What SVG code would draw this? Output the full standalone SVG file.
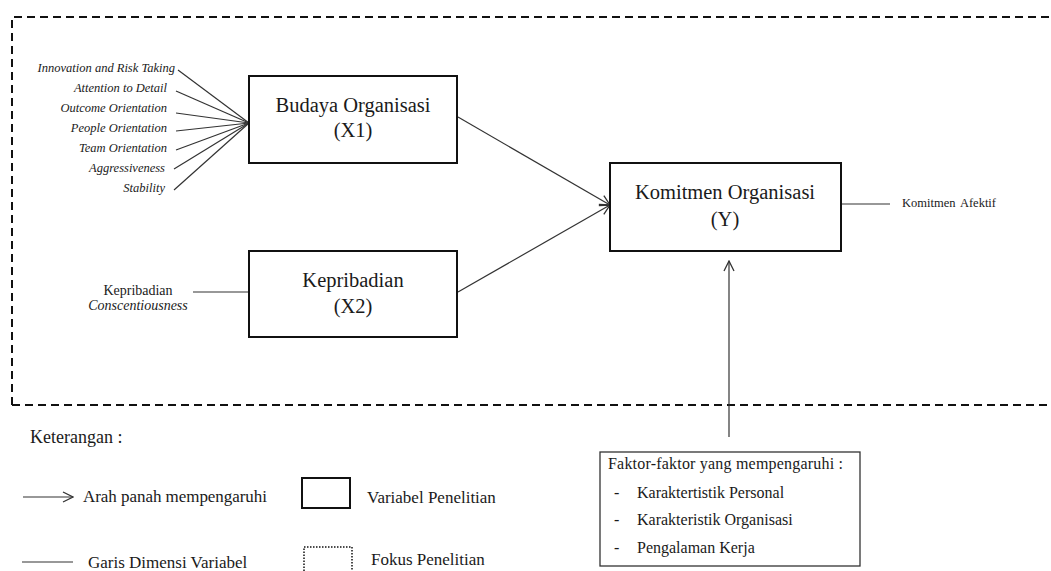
<svg xmlns="http://www.w3.org/2000/svg" width="1051" height="571" viewBox="0 0 1051 571">
<defs>
<marker id="arr" viewBox="0 0 12 12" refX="11" refY="6" markerWidth="12" markerHeight="12" markerUnits="userSpaceOnUse" orient="auto">
<path d="M1,1 L11,6 L1,11" fill="none" stroke="#333" stroke-width="1.3"/>
</marker>
</defs>
<style>
.t{font-family:"Liberation Serif","Times New Roman",serif;fill:#1a1a1a}
.big{font-size:20.5px}
.dim{font-size:12.5px;font-style:italic}
.box{fill:#fff;stroke:#111;stroke-width:2}
.ln{stroke:#333;stroke-width:1.2;fill:none}
.leg{font-size:17px}
.fk{font-size:16px}
</style>
<rect width="1051" height="571" fill="#fff"/>
<g id="focus">
<path d="M12,405 L12,17 L1051,17 M12,405 L1051,405" fill="none" stroke="#111" stroke-width="2" stroke-dasharray="8 5"/>
</g>
<g id="connectors">
<line class="ln" x1="178" y1="70" x2="249" y2="123"/>
<line class="ln" x1="176" y1="91" x2="249" y2="123"/>
<line class="ln" x1="176" y1="113" x2="249" y2="123"/>
<line class="ln" x1="176" y1="131" x2="249" y2="123"/>
<line class="ln" x1="176" y1="150" x2="249" y2="123"/>
<line class="ln" x1="174" y1="169" x2="249" y2="123"/>
<line class="ln" x1="174" y1="190" x2="249" y2="123"/>
<line class="ln" x1="193" y1="292" x2="249" y2="292"/>
<line class="ln" x1="458" y1="117" x2="610" y2="205" marker-end="url(#arr)"/>
<line class="ln" x1="458" y1="292" x2="610" y2="205" marker-end="url(#arr)"/>
<line class="ln" x1="841" y1="204" x2="890" y2="204"/>
<line class="ln" x1="729" y1="437" x2="729" y2="261" marker-end="url(#arr)"/>
</g>
<g id="budaya">
<rect class="box" x="249" y="76" width="208" height="87"/>
<text class="t big" x="353" y="112" text-anchor="middle">Budaya Organisasi</text>
<text class="t big" x="353" y="137" text-anchor="middle">(X1)</text>
</g>
<g id="kepribadian">
<rect class="box" x="249" y="251" width="208" height="86"/>
<text class="t big" x="353" y="287" text-anchor="middle">Kepribadian</text>
<text class="t big" x="353" y="313" text-anchor="middle">(X2)</text>
</g>
<g id="komitmen">
<rect class="box" x="610" y="163" width="231" height="88"/>
<text class="t big" x="725" y="199" text-anchor="middle">Komitmen Organisasi</text>
<text class="t big" x="725" y="226" text-anchor="middle">(Y)</text>
</g>
<g id="dimensi-x1">
<text class="t dim" x="175" y="72" text-anchor="end">Innovation and Risk Taking</text>
<text class="t dim" x="167" y="92" text-anchor="end">Attention to Detail</text>
<text class="t dim" x="167" y="112" text-anchor="end">Outcome Orientation</text>
<text class="t dim" x="167" y="132" text-anchor="end">People Orientation</text>
<text class="t dim" x="167" y="152" text-anchor="end">Team Orientation</text>
<text class="t dim" x="165" y="172" text-anchor="end">Aggressiveness</text>
<text class="t dim" x="165" y="192" text-anchor="end">Stability</text>
</g>
<g id="dimensi-x2">
<text class="t" x="138" y="295" text-anchor="middle" font-size="14">Kepribadian</text>
<text class="t" x="138" y="310" text-anchor="middle" font-size="14" font-style="italic">Conscentiousness</text>
</g>
<g id="dimensi-y">
<text class="t" x="902" y="207" font-size="12.5" word-spacing="2">Komitmen Afektif</text>
</g>
<g id="faktor">
<rect x="600" y="452" width="260" height="114" fill="#fff" stroke="#333" stroke-width="1.3"/>
<text class="t fk" x="608" y="469" textLength="235">Faktor-faktor yang mempengaruhi :</text>
<text class="t fk" x="614" y="498">-</text>
<text class="t fk" x="637" y="498">Karaktertistik Personal</text>
<text class="t fk" x="614" y="525">-</text>
<text class="t fk" x="637" y="525">Karakteristik Organisasi</text>
<text class="t fk" x="614" y="553">-</text>
<text class="t fk" x="637" y="553">Pengalaman Kerja</text>
</g>
<g id="legend">
<text class="t" x="30" y="443" font-size="18">Keterangan :</text>
<line class="ln" x1="23" y1="497" x2="73" y2="497" marker-end="url(#arr)"/>
<text class="t leg" x="83" y="502" textLength="184">Arah panah mempengaruhi</text>
<rect x="302" y="478" width="48" height="30" fill="#fff" stroke="#111" stroke-width="2"/>
<text class="t leg" x="367" y="503">Variabel Penelitian</text>
<line class="ln" x1="22" y1="562" x2="73" y2="562"/>
<text class="t leg" x="88" y="568">Garis Dimensi Variabel</text>
<path d="M304,571 L304,547 L352,547 L352,571" fill="none" stroke="#111" stroke-width="1.5" stroke-dasharray="1.5 1.5"/>
<text class="t leg" x="371" y="565">Fokus Penelitian</text>
</g>
</svg>
